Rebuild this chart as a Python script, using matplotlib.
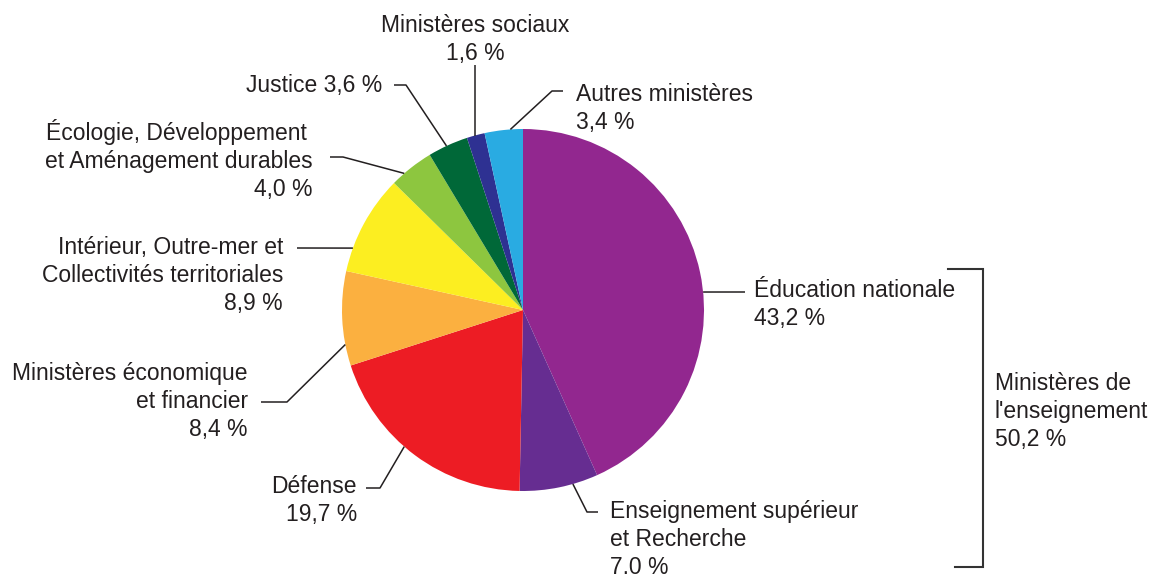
import numpy as np
import matplotlib
matplotlib.use("Agg")
import matplotlib.pyplot as plt

plt.rcParams['font.family'] = ['Liberation Sans', 'DejaVu Sans']

# ---- data ----
categories = ["Éducation nationale", "Enseignement supérieur et Recherche", "Défense",
              "Ministères économique et financier", "Intérieur, Outre-mer et Collectivités territoriales",
              "Écologie, Développement et Aménagement durables", "Justice", "Ministères sociaux",
              "Autres ministères"]
values = [43.2, 7.0, 19.7, 8.4, 8.9, 4.0, 3.6, 1.6, 3.4]
value_labels = ["43,2 %", "7,0 %", "19,7 %", "8,4 %", "8,9 %", "4,0 %", "3,6 %", "1,6 %", "3,4 %"]
colors = ["#92278F", "#662D91", "#ED1C24", "#FBB040", "#FCEE21", "#8DC63F", "#006838", "#2E3192", "#29ABE2"]
group_label = ["Ministères de", "l'enseignement", "50,2 %"]

W, H = 1151, 574
fig = plt.figure(figsize=(W / 100, H / 100), dpi=100)
ax = fig.add_axes([0, 0, 1, 1])

cx, cy, R = 523, H - 310, 181
ax.pie(values, colors=colors, startangle=90, counterclock=False,
       center=(cx, cy), radius=R, wedgeprops=dict(linewidth=0))
ax.set_xlim(0, W)
ax.set_ylim(0, H)
ax.set_aspect('equal')
ax.axis('off')

TXT = "#231F20"
FS = 16.5
LW = 1.1

def edge(angle):
    a = np.deg2rad(angle)
    return (cx + R * np.cos(a), cy + R * np.sin(a))

# label layout: lines, x, first baseline (px from top), ha, leader points (px from top), edge angle
layout = [
    (["Éducation nationale", value_labels[0]], 754, 297, 'left', [(745, 292)], 5.7),
    (["Enseignement supérieur", "et Recherche", value_labels[1]], 610, 518, 'left', [(598, 512), (587, 512)], 286),
    (["Défense", value_labels[2]], 357, 493, 'right', [(366, 488), (380, 488)], 229),
    (["Ministères économique", "et financier", value_labels[3]], 248, 380, 'right', [(261, 402), (287, 402)], 191),
    (["Intérieur, Outre-mer et", "Collectivités territoriales", value_labels[4]], 283, 254, 'right', [(297, 248)], 160),
    (["Écologie, Développement", "et Aménagement durables", value_labels[5]], 313, 140, 'right', [(330, 157), (343, 157)], 131),
    (["Justice " + value_labels[6]], 382, 92, 'right', [(394, 85), (406, 85)], 115),
    (["Ministères sociaux", value_labels[7]], 475, 32, 'center', [(476, 65)], 105.5),
    (["Autres ministères", value_labels[8]], 576, 101, 'left', [(563, 91), (552, 91)], 94),
]

for lines, x, y0, ha, pts, ang in layout:
    for i, t in enumerate(lines):
        xx = x
        if ha == 'right' and t.startswith("Écologie"):
            xx = x - 6
        ax.text(xx, H - (y0 + 27.8 * i), t, ha=ha, va='baseline', fontsize=FS, color=TXT)
    ex, ey = edge(ang)
    xs = [p[0] for p in pts]
    ys = [H - p[1] for p in pts]
    if len(pts) == 1 and ha == 'center':
        xs = [ex]
    xs.append(ex)
    ys.append(ey)
    ax.plot(xs, ys, color=TXT, lw=LW, solid_capstyle='butt')

# bracket for the education group
ax.plot([948, 983, 983, 955], [H - 269, H - 269, H - 567, H - 567], color="#333333", lw=1.5,
        solid_joinstyle='miter')
for i, t in enumerate(group_label):
    ax.text(995, H - (390 + 27.8 * i), t, ha='left', va='baseline', fontsize=FS, color=TXT)

fig.savefig("out.png", dpi=100)
